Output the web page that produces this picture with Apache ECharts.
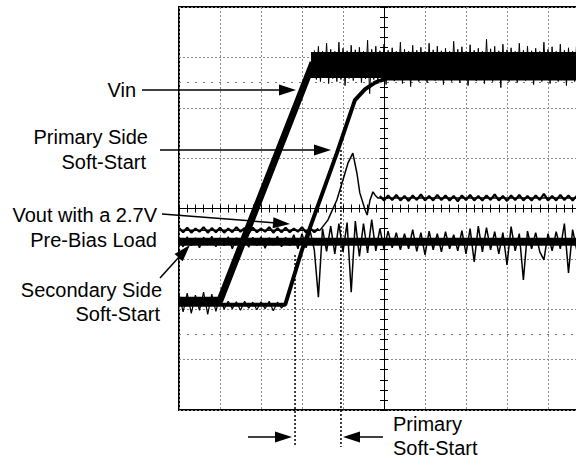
<!DOCTYPE html>
<html lang="en">
<head>
    <meta charset="UTF-8">
    <script src="https://cdn.jsdelivr.net/npm/echarts@6/dist/echarts.min.js"></script>
    <title>Pre-bias start-up waveforms</title>
    <style>html, body { margin: 0; padding: 0; background: #fff; }</style>
</head>
<body>
<div id="main" style="width: 576px;height:458px;"></div>
<script type="text/javascript">
    // scope screen units: x = time divisions (-5..5), y = vertical divisions (-4..4)

    // Vin: flat, ramp, then noisy plateau
    var vinTrace = [[-5, -1.82], [-4.0, -1.82], [-1.73, 2.90]];
    var vinPlateau = [[-1.78, 2.85], [5.2, 2.85]];
    var vinNoise = [3.14, 2.56, 3.22, 2.52, 3.12, 2.60, 3.28, 2.48, 3.16, 2.58,
        3.12, 2.52, 3.30, 2.56, 3.18, 2.44, 3.13, 2.58, 3.24, 2.54,
        3.15, 2.60, 3.20, 2.50, 3.12, 2.57, 3.34, 2.28, 3.16, 2.56,
        3.22, 2.52, 3.13, 2.59, 3.26, 2.46, 3.14, 2.56, 3.19, 2.53,
        3.12, 2.60, 3.30, 2.48, 3.16, 2.57, 3.12, 2.42, 3.24, 2.58,
        3.14, 2.52, 3.20, 2.56, 3.12, 2.50, 3.28, 2.58, 3.15, 2.54,
        3.22, 2.60, 3.13, 2.46, 3.18, 2.56, 3.12, 2.52, 3.32, 2.58,
        3.16, 2.50, 3.21, 2.57, 3.12, 2.44, 3.25, 2.56, 3.14, 2.53,
        3.18, 2.59, 3.12, 2.48, 3.36, 2.56, 3.17, 2.52, 3.22, 2.58,
        3.13, 2.40, 3.26, 2.56, 3.15, 2.52, 3.19, 2.59, 3.12, 2.50,
        3.28, 2.57, 3.14, 2.54, 3.22, 2.60, 3.13, 2.46, 3.18, 2.56,
        3.12, 2.52, 3.30, 2.58, 3.16, 2.48, 3.21, 2.57, 3.12, 2.52,
        3.26, 2.56, 3.14, 2.44, 3.19, 2.58, 3.12, 2.52, 3.32, 2.56,
        3.16, 2.50, 3.22, 2.58, 3.13, 2.38, 3.24, 2.56, 3.15, 2.52];
    var vinNoiseStart = -1.7, vinNoiseStep = 0.05;

    // Primary side soft-start
    var primaryTrace = [[-5, -1.91], [-2.41, -1.91], [-2.0, -0.82], [-1.15, 1.10],
        [-0.71, 2.15], [-0.46, 2.37], [-0.22, 2.50], [0.05, 2.58], [5.2, 2.58]];
    var lowNoise = [-1.70, -2.05, -1.68, -2.08, -1.72, -2.02, -1.66, -2.10, -1.70, -2.04,
        -1.74, -2.00, -1.84, -1.99, -1.85, -2.02, -1.84, -1.98, -1.86, -2.01,
        -1.85, -1.99, -1.84, -2.03, -1.86, -1.98, -1.88];
    var lowNoiseStart = -5.0, lowNoiseStep = 0.1;

    // Vout with a 2.7V pre-bias load
    var voutTrace = [[-5, -0.43], [-1.56, -0.43], [-1.37, -0.23], [-1.15, 0.17], [-1.0, 0.57],
        [-0.88, 0.90], [-0.76, 1.10], [-0.66, 0.70], [-0.59, 0.31], [-0.46, -0.03],
        [-0.41, -0.13], [-0.34, 0.17], [-0.27, 0.33], [-0.22, 0.27], [-0.15, 0.21], [5.2, 0.21]];
    var voutNoise = [-0.39, -0.47, -0.38, -0.48, -0.40, -0.46, -0.37, -0.48, -0.39, -0.47,
        -0.38, -0.48, -0.40, -0.47, -0.37, -0.46, -0.39, -0.49, -0.38, -0.47,
        -0.40, -0.46, -0.37, -0.48, -0.39, -0.47, -0.38, -0.47, -0.40, -0.46,
        -0.37, -0.48, -0.39, -0.47, -0.40,
        null, null, null, null, null, null, null, null, null, null, null, null, null, null,
        0.25, 0.16, 0.26, 0.17, 0.27, 0.16, 0.25, 0.15, 0.26, 0.17,
        0.28, 0.16, 0.25, 0.16, 0.27, 0.17, 0.26, 0.16, 0.25, 0.14,
        0.26, 0.17, 0.27, 0.16, 0.25, 0.16, 0.26, 0.17, 0.28, 0.16,
        0.25, 0.15, 0.26, 0.17, 0.27, 0.16, 0.25, 0.16, 0.26, 0.17,
        0.29, 0.16, 0.25, 0.16, 0.27, 0.17, 0.26, 0.16, 0.25, 0.15,
        0.26, 0.17, 0.25, 0.16];
    var voutNoiseStart = -5.0, voutNoiseStep = 0.1;

    // Secondary side soft-start
    var secondaryTrace = [[-5, -0.66], [5.2, -0.66]];
    var secondaryNoise = [-0.60, -0.76, -0.56, -0.74, -0.58, -0.78, -0.57, -0.72, -0.55, -0.76,
        -0.58, -0.74, -0.56, -0.80, -0.58, -0.73, -0.55, -0.77, -0.57, -0.74,
        -0.56, -0.79, -0.58, -0.73, -0.55, -0.76, -0.57, -0.74, -0.52, -0.80,
        -0.50, -0.78, -0.45, -0.82, -1.76, -0.40, -0.85, -0.35, -0.90, -0.30,
        -0.86, -0.28, -1.66, -0.25, -0.95, -0.30, -0.88, -0.22, -0.84, -0.40,
        -0.80, -0.45, -0.78, -0.48, -0.82, -0.50, -0.80, -0.42, -0.85, -0.48,
        -0.92, -0.45, -0.82, -0.50, -0.86, -0.46, -0.80, -0.52, -0.84, -0.44,
        -0.90, -0.40, -1.06, -0.35, -0.86, -0.38, -0.82, -0.46, -0.90, -0.48,
        -1.12, -0.36, -0.84, -0.50, -1.42, -0.45, -0.80, -0.48, -0.86, -1.02,
        -0.50, -0.84, -0.46, -0.80, -0.30, -1.28, -0.42, -0.82, -0.48, -0.86,
        -0.44, -0.80, -0.50];
    var secondaryNoiseStart = -5.0, secondaryNoiseStep = 0.1;

    // dotted time markers of the primary soft-start interval
    var markerT = [-2.17, -1.05];
    var markerTop = [255, 150];

    function sampled(t0, step, vals) {
        return vals.map(function (v, i) { return [t0 + i * step, v]; });
    }

    function trace(name, data, width, z) {
        return {
            name: name, type: 'line', data: data, symbol: 'none', z: z,
            lineStyle: {color: '#000', width: width}, silent: true, connectNulls: false
        };
    }

    var myChart = echarts.init(document.getElementById('main'), null, {renderer: 'svg'});

    var gridLine = {show: true, lineStyle: {color: '#8a8a8a', type: [2, 2], width: 1}};
    var centreLine = {show: true, onZero: true, onZeroAxisIndex: 0, lineStyle: {color: '#000', width: 1}};
    var tick = {show: true, inside: true, length: 4, lineStyle: {color: '#000', width: 1}};
    var minor = {show: true, splitNumber: 5, length: 4, lineStyle: {color: '#000', width: 1}};

    var sec = trace('Secondary Side Soft-Start', secondaryTrace, 8, 2);
    sec.markLine = {
        silent: true, symbol: 'none', label: {show: false},
        lineStyle: {color: '#777', type: [2, 6], width: 1},
        data: [{yAxis: 2.5}, {yAxis: -2.5}]
    };

    var option = {
        animation: false,
        backgroundColor: '#fff',
        grid: {left: 179, top: 7, width: 410, height: 403, show: true,
            borderColor: '#000', borderWidth: 2, outerBoundsMode: 'none'},
        xAxis: [
            {type: 'value', min: -5, max: 5, interval: 1, position: 'bottom',
                axisLine: centreLine, axisTick: tick, minorTick: minor,
                axisLabel: {show: false}, splitLine: gridLine},
            {type: 'value', min: -5, max: 5, interval: 1, position: 'top',
                axisLine: centreLine, axisTick: tick, minorTick: minor,
                axisLabel: {show: false}, splitLine: {show: false}}
        ],
        yAxis: [
            {type: 'value', min: -4, max: 4, interval: 1, position: 'left',
                axisLine: centreLine, axisTick: tick, minorTick: minor,
                axisLabel: {show: false}, splitLine: gridLine},
            {type: 'value', min: -4, max: 4, interval: 1, position: 'right',
                axisLine: centreLine, axisTick: tick, minorTick: minor,
                axisLabel: {show: false}, splitLine: {show: false}}
        ],
        series: [
            sec,
            trace('secondary noise', sampled(secondaryNoiseStart, secondaryNoiseStep, secondaryNoise), 1.5, 2),
            trace('Vout', voutTrace, 1.5, 3),
            trace('vout noise', sampled(voutNoiseStart, voutNoiseStep, voutNoise), 2.2, 3),
            trace('Primary Side Soft-Start', primaryTrace, 4, 4),
            trace('low noise', sampled(lowNoiseStart, lowNoiseStep, lowNoise), 1.2, 4),
            trace('Vin', vinTrace, 7, 5),
            trace('Vin plateau', vinPlateau, 26, 5),
            trace('vin noise', sampled(vinNoiseStart, vinNoiseStep, vinNoise), 1, 5)
        ]
    };
    myChart.setOption(option);

    // annotations
    var FONT = '20px "Liberation Sans", Arial, sans-serif';
    var labels = [
        ['Vin', 136, 90, 'right'],
        ['Primary Side', 148, 137, 'right'],
        ['Soft-Start', 146, 162, 'right'],
        ['Vout with a 2.7V', 157, 215, 'right'],
        ['Pre-Bias Load', 157, 240, 'right'],
        ['Secondary Side', 162, 290, 'right'],
        ['Soft-Start', 160, 314, 'right'],
        ['Primary', 393, 424, 'left'],
        ['Soft-Start', 393, 448, 'left']
    ];
    var arrows = [
        [142, 90, 296, 90],
        [160, 150, 331, 150],
        [162, 214, 290, 224],
        [160, 278, 190, 245],
        [248, 437, 292, 437],
        [383, 437, 343, 437]
    ];

    var elements = [];
    labels.forEach(function (l) {
        elements.push({type: 'text', z: 100, style: {text: l[0], x: l[1], y: l[2], font: FONT,
            fill: '#000', align: l[3], textAlign: l[3], verticalAlign: 'middle', textVerticalAlign: 'middle'}});
    });
    arrows.forEach(function (a) {
        var ang = Math.atan2(a[3] - a[1], a[2] - a[0]), L = 17, W = 5.5;
        var bx = a[2] - L * Math.cos(ang), by = a[3] - L * Math.sin(ang);
        elements.push({type: 'line', z: 100, shape: {x1: a[0], y1: a[1], x2: bx, y2: by},
            style: {stroke: '#000', lineWidth: 1.5}});
        elements.push({type: 'polygon', z: 100, shape: {points: [[a[2], a[3]],
                [bx - W * Math.sin(ang), by + W * Math.cos(ang)],
                [bx + W * Math.sin(ang), by - W * Math.cos(ang)]]},
            style: {fill: '#000'}});
    });
    markerT.forEach(function (t, i) {
        var x = myChart.convertToPixel({xAxisIndex: 0}, t);
        elements.push({type: 'line', z: 100, shape: {x1: x, y1: markerTop[i], x2: x, y2: 447},
            style: {stroke: '#000', lineWidth: 1.5, lineDash: [2, 2]}});
    });
    myChart.setOption({graphic: {elements: elements}});
</script>
</body>
</html>
